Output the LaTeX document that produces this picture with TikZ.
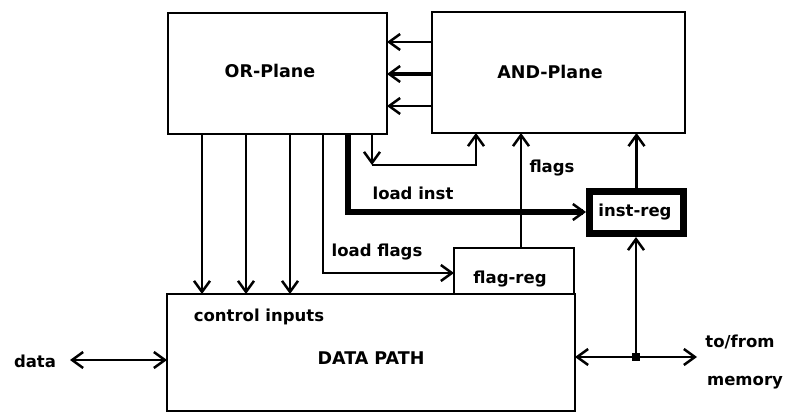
\documentclass[tikz,border=0pt]{standalone}
\usepackage{fontspec}
\setmainfont{DejaVu Sans}
\usetikzlibrary{arrows.meta}
\begin{document}
\begin{tikzpicture}[x=1pt,y=-1pt,
  box/.style={draw, line width=2.8pt, inner sep=0pt, outer sep=0pt, anchor=north west},
  lbl/.style={font=\bfseries\fontsize{16.5}{18}\selectfont, inner sep=0pt},
  big/.style={font=\bfseries\fontsize{17.5}{19}\selectfont, inner sep=0pt},
  wire/.style={line width=2.5pt},
  >={Straight Barb[length=11pt,width=16pt,line width=2.5pt]}
]
\useasboundingbox (0,0) rectangle (790,414);

% boxes
\node[box, minimum width=219pt, minimum height=121pt] (or) at (168,13) {};
\node[box, minimum width=253pt, minimum height=121pt] (and) at (432,12) {};
\node[box, minimum width=408pt, minimum height=117pt] (dp) at (167,294) {};
\node[box, minimum width=120pt, minimum height=46pt] (fr) at (454,248) {};
\node[draw, line width=7pt, inner sep=0pt, outer sep=3.5pt, anchor=north west,
      minimum width=94pt, minimum height=42pt] (ir) at (586,188) {};

% texts
\node[big] (ort) at (270,71) {OR-Plane};
\node[big] (andt) at (550,72) {AND-Plane};
\node[lbl] (irt) at (635,212) {inst-reg};
\node[lbl] (frt) at (510,279) {flag-reg};
\node[lbl] (cit) at (259,317) {control inputs};
\node[big] (dpt) at (371,358) {DATA PATH};
\node[lbl] (lit) at (413,193) {load inst};
\node[lbl] (lft) at (377,252) {load flags};
\node[lbl] (flt) at (552,168) {flags};
\node[lbl] (dat) at (35,361) {data};
\node[lbl] (tft) at (740,342) {to/from};
\node[lbl] (mem) at (745,383) {memory};

% AND-plane -> OR-plane
\draw[wire,->] (and.west |- 0,42) -- (or.east |- 0,42);
\draw[line width=3.3pt,->] (and.west |- 0,74) -- (or.east |- 0,74);
\draw[wire,->] (and.west |- 0,106) -- (or.east |- 0,106);

% OR-plane -> control inputs
\foreach \x in {202,246,290}
  \draw[wire,->] (\x,0 |- or.south) -- (\x,0 |- dp.north);

% load flags
\coordinate (lfc) at (323,273);
\draw[wire,->] (lfc |- or.south) -- (lfc) -- (fr.west |- lfc);

% load inst
\coordinate (lic) at (348,212);
\draw[line width=6.5pt, line join=miter, -{Straight Barb[length=11pt,width=16pt,line width=2.5pt]}]
  (lic |- or.south) -- (lic) -- (ir.west |- lic);

% feedback loop
\coordinate (la) at (372,165);
\coordinate (lb) at (476,165);
\draw[wire,->] (la |- or.south) -- (la);
\draw[wire,->] (la) -- (lb) -- (lb |- and.south);

% flags
\coordinate (fc) at (521,0);
\draw[wire,->] (fc |- fr.north) -- (fc |- and.south);

% inst-reg -> AND-plane
\draw[wire,->] (ir.north) -- (ir.north |- and.south);

% memory bus
\coordinate (j) at (636,357);
\coordinate (m) at (697,357);
\draw[wire,<->] (dp.east |- j) -- (m);
\draw[wire,->] (j) -- (j |- ir.south);
\node[fill, minimum size=8pt, inner sep=0pt] (jd) at (j) {};

% data
\coordinate (d) at (70,360);
\draw[wire,<->] (d) -- (dp.west |- d);
\end{tikzpicture}
\end{document}
